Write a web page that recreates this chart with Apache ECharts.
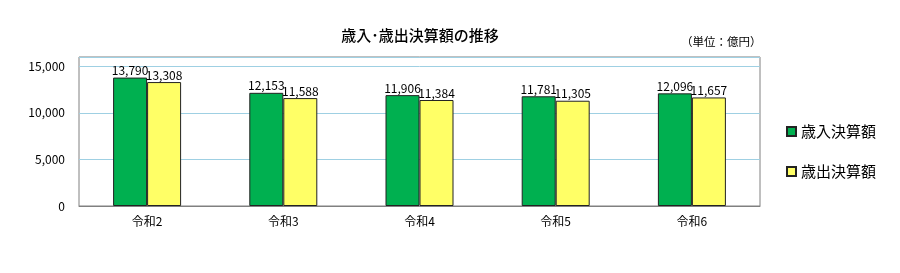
<!DOCTYPE html>
<html><head><meta charset="utf-8">
<script src="https://cdn.jsdelivr.net/npm/echarts@6/dist/echarts.min.js"></script>
<style>html,body{margin:0;padding:0;background:#fff}#c{width:900px;height:273px}</style>
</head><body><div id="c"></div>
<script>
const categories = ['令和2','令和3','令和4','令和5','令和6'];
const revenue = [13790, 12153, 11906, 11781, 12096];
const expenditure = [13308, 11588, 11384, 11305, 11657];
const seriesNames = ['歳入決算額','歳出決算額'];
const yTicks = [0, 5000, 10000, 15000];

const font = '"Noto Sans CJK JP", sans-serif';
const chart = echarts.init(document.getElementById('c'));
const lbl = {show:true, position:'top', distance:1, color:'#000', fontSize:12, fontFamily:font,
  formatter: p => p.value.toLocaleString('en-US')};
chart.setOption({
  animation:false,
  title:[
    {text:'歳入･歳出決算額の推移', left:415, top:23, textAlign:'center',
     textStyle:{fontSize:15, fontWeight:500, color:'#000', fontFamily:font}},
    {text:'（単位：億円）', left:676, top:31,
     textStyle:{fontSize:11.5, fontWeight:'normal', color:'#000', fontFamily:font}}
  ],
  legend:{orient:'vertical', left:781, top:119, itemGap:25, itemWidth:9, itemHeight:9,
    icon:'rect', textStyle:{fontSize:15, color:'#000', fontFamily:font},
    data:seriesNames},
  grid:{left:79, right:140, top:57, bottom:67, show:true, borderColor:'#808080', borderWidth:1},
  xAxis:{type:'category', data:categories,
    axisLine:{lineStyle:{color:'#808080'}}, axisTick:{show:false},
    axisLabel:{color:'#000', fontSize:12, fontFamily:font, margin:9}},
  yAxis:{type:'value', min:0, max:16000, interval:5000,
    axisLabel:{color:'#000', fontSize:12, fontFamily:font, margin:14, showMaxLabel:false,
      formatter: v => yTicks.includes(v) ? v.toLocaleString('en-US') : ''},
    axisLine:{show:false}, axisTick:{show:false},
    splitLine:{lineStyle:{color:'#9fd0e3', width:1}}},
  series:[
    {name:seriesNames[0], type:'bar', data:revenue, barWidth:34, barGap:'0%',
     itemStyle:{color:'#00b050', borderColor:'#222', borderWidth:1}, label:lbl},
    {name:seriesNames[1], type:'bar', data:expenditure, barWidth:34,
     itemStyle:{color:'#ffff66', borderColor:'#222', borderWidth:1}, label:lbl}
  ]
});
</script></body></html>
